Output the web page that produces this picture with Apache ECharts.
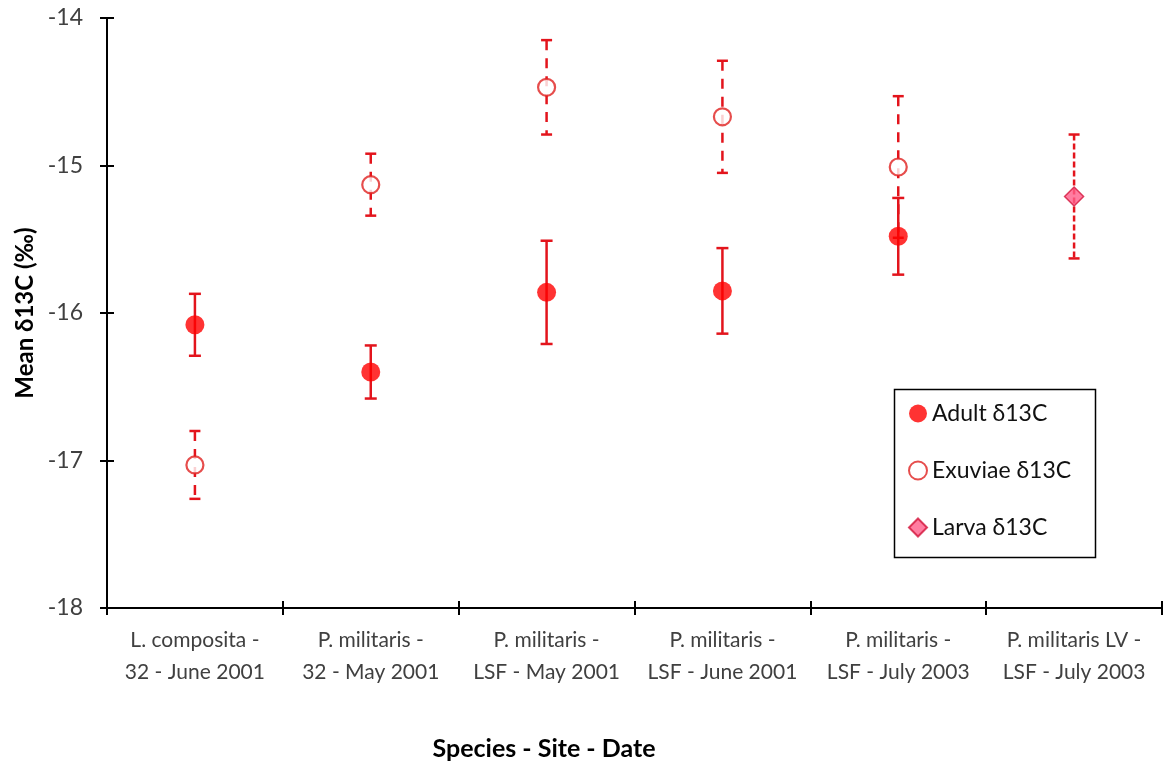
<!DOCTYPE html>
<html>
<head>
<meta charset="utf-8">
<script src="https://cdn.jsdelivr.net/npm/echarts@6/dist/echarts.min.js"></script>
<style>html,body{margin:0;padding:0;background:#fff}#c{width:1163px;height:770px}</style>
</head>
<body>
<div id="c"></div>
<script>
var categories = ['L. composita -\n32 - June 2001','P. militaris -\n32 - May 2001','P. militaris -\nLSF - May 2001','P. militaris -\nLSF - June 2001','P. militaris -\nLSF - July 2003','P. militaris LV -\nLSF - July 2003'];
var adultMean = [-16.08, -16.40, -15.86, -15.85, -15.48, null];
var adultErr  = [0.21, 0.18, 0.35, 0.29, 0.26, null];
var exuviaeMean = [-17.03, -15.13, -14.47, -14.67, -15.01, null];
var exuviaeErr  = [0.23, 0.21, 0.32, 0.38, 0.48, null];
var larvaMean = [null, null, null, null, null, -15.21];
var larvaErr  = [null, null, null, null, null, 0.42];
var yTicks = [-18, -17, -16, -15, -14];

var FONT = 'Lato';
var errColor = '#e3141c';

function pts(mean){ return mean.map(function(v,i){ return v==null ? [i,'-'] : [i, v]; }); }
function errData(mean, err){
  var out = [];
  mean.forEach(function(v,i){ if (v!=null) out.push([i, v-err[i], v+err[i]]); });
  return out;
}
function errRender(capW, dash){
  return function(params, api){
    var x = api.value(0), lo = api.value(1), hi = api.value(2);
    var p1 = api.coord([x, hi]), p2 = api.coord([x, lo]);
    var lineStyle = {stroke: errColor, lineWidth: 2.5, lineDash: dash, fill: null};
    var capStyle = {stroke: errColor, lineWidth: 2.5, fill: null};
    return {type:'group', children:[
      {type:'line', shape:{x1:p1[0], y1:p1[1], x2:p2[0], y2:p2[1]}, style: lineStyle},
      {type:'line', shape:{x1:p1[0]-capW/2, y1:p1[1], x2:p1[0]+capW/2, y2:p1[1]}, style: capStyle},
      {type:'line', shape:{x1:p2[0]-capW/2, y1:p2[1], x2:p2[0]+capW/2, y2:p2[1]}, style: capStyle}
    ]};
  };
}

var chart = echarts.init(document.getElementById('c'), null, {renderer:'canvas'});
var axisLine = {show:true, lineStyle:{color:'#000', width:2}};
var option = {
  backgroundColor:'#fff',
  animation:false,
  grid:{left:107, right:1, top:18, bottom:162, containLabel:false},
  xAxis:[
    {type:'category', data:categories, boundaryGap:true, position:'bottom',
     axisLine:axisLine, axisTick:{show:true, length:7, lineStyle:{color:'#000', width:2}},
     axisLabel:{fontFamily:FONT, fontSize:21, color:'#404040', lineHeight:32, margin:16, interval:0},
     splitLine:{show:false}},
    {type:'category', data:categories, boundaryGap:true, position:'bottom',
     axisLine:{show:false}, axisTick:{show:true, inside:true, length:7, lineStyle:{color:'#000', width:2}},
     axisLabel:{show:false}, splitLine:{show:false}}
  ],
  yAxis:[
    {type:'value', min:-18, max:-14, interval:1, position:'left',
     axisLine:axisLine, axisTick:{show:true, length:7, lineStyle:{color:'#000', width:2}},
     axisLabel:{fontFamily:FONT, fontSize:23, color:'#404040', margin:24,
       customValues: yTicks},
     splitLine:{show:false},
     name:'Mean δ13C (‰)', nameLocation:'middle', nameGap:67, nameRotate:90,
     nameTextStyle:{fontFamily:FONT, fontSize:24, fontWeight:'bold', color:'#000'}},
    {type:'value', min:-18, max:-14, interval:1, position:'left',
     axisLine:{show:false}, axisTick:{show:true, inside:true, length:7, lineStyle:{color:'#000', width:2}},
     axisLabel:{show:false}, splitLine:{show:false}}
  ],
  legend:{
    orient:'vertical', left:903, top:397, itemGap:34, itemWidth:18, itemHeight:18,
    textStyle:{fontFamily:FONT, fontSize:23, color:'#111', lineHeight:22},
    data:['Adult δ13C','Exuviae δ13C','Larva δ13C']
  },
  graphic:[
    {type:'rect', left:892, top:387, shape:{width:201, height:168}, style:{fill:null, stroke:'#000', lineWidth:1.5}, z:-1},
    {type:'text', x:544, y:749, style:{text:'Species - Site - Date', font:'bold 25px Lato', fill:'#000', textAlign:'center', textVerticalAlign:'middle'}}
  ],
  series:[
    {type:'custom', name:'exErr', renderItem: errRender(11, [10,8]), data: errData(exuviaeMean, exuviaeErr), z:2, encode:{x:0, y:[1,2]}},
    {type:'scatter', name:'Exuviae δ13C', data: pts(exuviaeMean), symbol:'circle', symbolSize:17,
     itemStyle:{color:'#fff', borderColor:'#e0201f', borderWidth:2.2}, z:3},
    {type:'custom', name:'adErr', renderItem: errRender(12, null), data: errData(adultMean, adultErr), z:4, encode:{x:0, y:[1,2]}},
    {type:'scatter', name:'Adult δ13C', data: pts(adultMean), symbol:'circle', symbolSize:19,
     itemStyle:{color:'#ff0000', borderWidth:0}, z:5},
    {type:'custom', name:'lvErr', renderItem: errRender(11, [6,3]), data: errData(larvaMean, larvaErr), z:4, encode:{x:0, y:[1,2]}},
    {type:'scatter', name:'Larva δ13C', data: pts(larvaMean), symbol:'diamond', symbolSize:19,
     itemStyle:{color:'#ff5c8a', borderColor:'#d3143b', borderWidth:1.5}, z:5}
  ]
};
chart.setOption(option);
</script>
</body>
</html>
